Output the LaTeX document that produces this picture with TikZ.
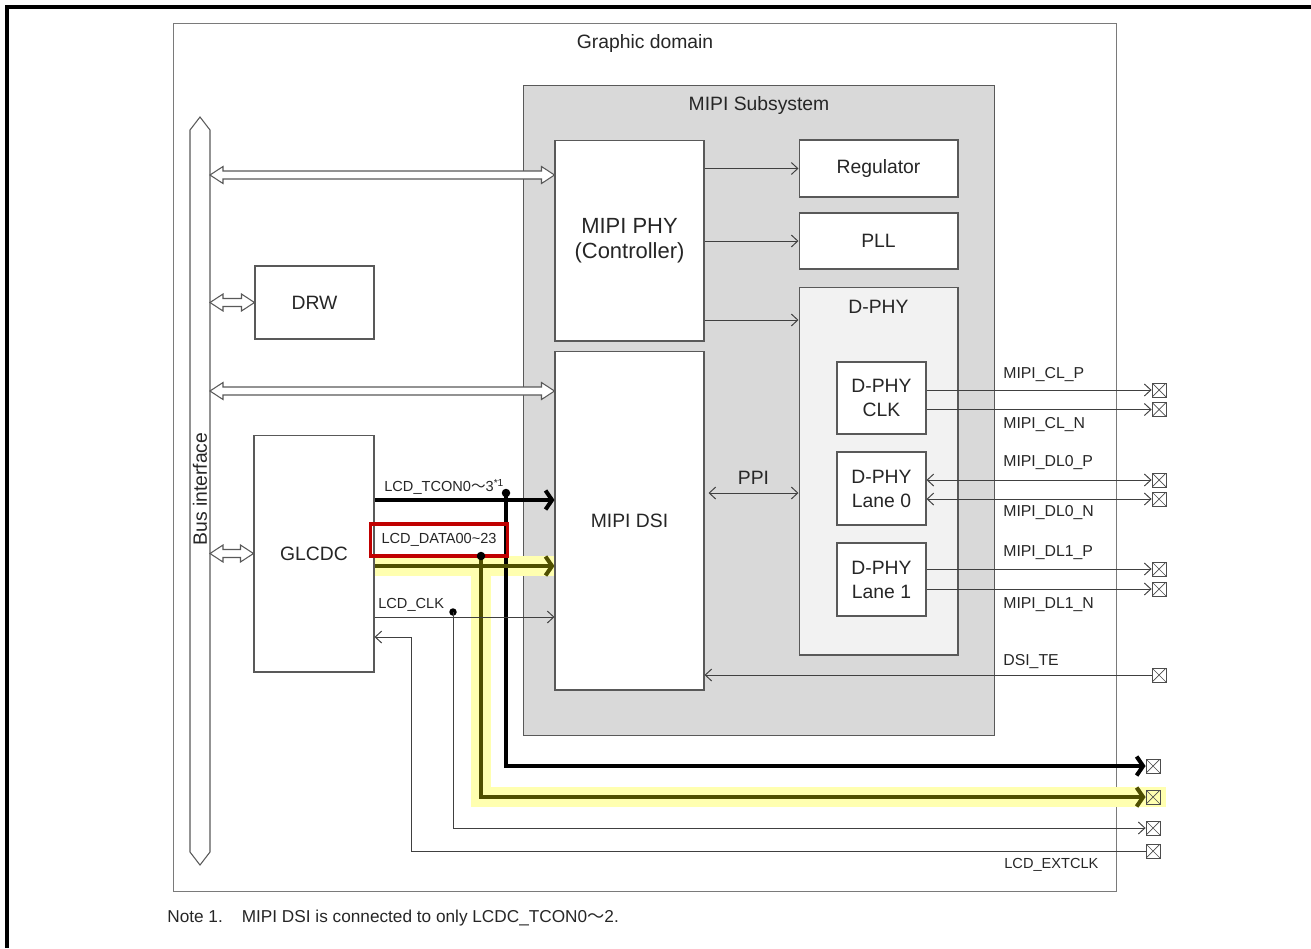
\documentclass[tikz,border=0pt]{standalone}
\usepackage{fontspec}
\setmainfont{Liberation Sans}
\newfontfamily\cjk{Noto Sans CJK JP}
\usetikzlibrary{arrows.meta}

\definecolor{subgray}{HTML}{D9D9D9}
\definecolor{phygray}{HTML}{F2F2F2}
\definecolor{edge}{HTML}{595959}
\definecolor{datacol}{HTML}{4F4F00}
\definecolor{hilite}{HTML}{FFFFB0}
\definecolor{redbox}{HTML}{C00000}

% hollow two-headed bus arrow between two named coordinates (left to right)
\newcommand\busarrow[2]{%
	\draw[draw=edge, fill=white, line width=0.6pt, line join=miter]
		(#1) -- ([xshift=0.26cm, yshift=0.17cm]#1) -- ([xshift=0.26cm, yshift=0.08cm]#1)
		-- ([xshift=-0.26cm, yshift=0.08cm]#2) -- ([xshift=-0.26cm, yshift=0.17cm]#2) -- (#2)
		-- ([xshift=-0.26cm, yshift=-0.17cm]#2) -- ([xshift=-0.26cm, yshift=-0.08cm]#2)
		-- ([xshift=0.26cm, yshift=-0.08cm]#1) -- ([xshift=0.26cm, yshift=-0.17cm]#1) -- cycle;}

\tikzset{
	blk/.style={draw=edge, fill=white, line width=0.6pt, align=center, font=\fontsize{11}{13.6}\selectfont},
	padbox/.style={draw=black!70, fill=white, minimum size=0.28cm, inner sep=0pt, line width=0.5pt,
		path picture={\draw[black!70, line width=0.4pt] (path picture bounding box.south west) -- (path picture bounding box.north east)
			(path picture bounding box.north west) -- (path picture bounding box.south east);}},
	sig/.style={anchor=west, inner sep=0pt, font=\fontsize{9}{10}\selectfont},
	lcd/.style={anchor=west, inner sep=0pt, font=\fontsize{8.3}{10}\selectfont},
	wire/.style={draw=black!75, line width=0.55pt},
	barb/.tip={Straight Barb[length=1.3mm, width=2.4mm]},
	thin/.style={-barb},
	fat/.style={line width=2.3pt, -{Straight Barb[length=1.3mm, width=3.8mm]}},
	dotnode/.style={circle, fill=black, inner sep=0pt, minimum size=0.17cm}
}

\begin{document}
\begin{tikzpicture}[x=0.02cm, y=-0.02cm, font=\fontsize{11}{13}\selectfont, text=black!85]
	\useasboundingbox (0,0) rectangle (1311,948);
	\draw[line width=2pt] (7,948) -- (7,7) -- (1311,7);

	% domains
	\node[draw=edge!80, line width=0.6pt, minimum width=18.88cm, minimum height=17.38cm] (dom) at (645,457.5) {};
	\node (domtitle) at (645,43) {Graphic domain};
	\node[draw=edge, fill=subgray, line width=0.6pt, minimum width=9.44cm, minimum height=13.02cm] (sub) at (759,410.5) {};
	\node (subtitle) at (759,105) {MIPI Subsystem};

	% blocks
	\node[blk, font=\fontsize{12.5}{14.2}\selectfont, minimum width=2.98cm, minimum height=4.02cm] (phy) at (629.5,240.5) {MIPI PHY\\(Controller)};
	\node[blk, minimum width=2.98cm, minimum height=6.78cm] (dsi) at (629.5,520.5) {MIPI DSI};
	\node[blk, minimum width=3.18cm, minimum height=1.14cm] (reg) at (878.5,168.5) {Regulator};
	\node[blk, minimum width=3.18cm, minimum height=1.12cm] (pll) at (878.5,241) {PLL};
	\node[blk, fill=phygray, minimum width=3.18cm, minimum height=7.36cm] (dphy) at (878.5,471) {};
	\node (dphytitle) at (878.5,307) {D-PHY};
	\node[blk, minimum width=1.78cm, minimum height=1.44cm] (clk) at (881.5,398) {D-PHY\\CLK};
	\node[blk, minimum width=1.78cm, minimum height=1.46cm] (lane0) at (881.5,488.5) {D-PHY\\Lane 0};
	\node[blk, minimum width=1.78cm, minimum height=1.46cm] (lane1) at (881.5,579.5) {D-PHY\\Lane 1};
	\node[blk, minimum width=2.38cm, minimum height=1.46cm] (drw) at (314.5,302.5) {DRW};
	\node[blk, minimum width=2.4cm, minimum height=4.74cm] (glcdc) at (314,553.5) {GLCDC};

	% bus interface
	\node[inner sep=0pt, outer sep=0pt, minimum width=0.4cm, minimum height=14.96cm] (bus) at (200,491) {};
	\draw[draw=edge, fill=white, line width=0.6pt] (190,130) -- (200,117) -- (210,130) -- (210,852) -- (200,865) -- (190,852) -- cycle;
	\node[rotate=90] (buslabel) at (200,489) {Bus interface};

	\coordinate (rowphy) at (0,175);
	\coordinate (rowdsi) at (0,391);
	\coordinate (bphy) at (bus.east |- rowphy);
	\coordinate (ephy) at (phy.west |- rowphy);
	\coordinate (bdrw) at (bus.east |- drw.west);
	\coordinate (edrw) at (drw.west);
	\coordinate (bdsi) at (bus.east |- rowdsi);
	\coordinate (edsi) at (dsi.west |- rowdsi);
	\coordinate (bglc) at (bus.east |- glcdc.west);
	\coordinate (eglc) at (glcdc.west);
	\busarrow{bphy}{ephy}
	\busarrow{bdrw}{edrw}
	\busarrow{bdsi}{edsi}
	\busarrow{bglc}{eglc}

	% inside the subsystem
	\coordinate (rowdphy) at (0,320);
	\coordinate (rowppi) at (0,493);
	\draw[wire, thin] (phy.east |- reg.west) -- (reg.west);
	\draw[wire, thin] (phy.east |- pll.west) -- (pll.west);
	\draw[wire, thin] (phy.east |- rowdphy) -- (dphy.west |- rowdphy);
	\draw[wire, barb-barb] ([xshift=0.08cm]dsi.east |- rowppi) -- node[above=1pt] (ppi) {PPI} (dphy.west |- rowppi);

	% pins
	\foreach \nm/\yy in {pclp/390, pcln/409.5, pdzp/480, pdzn/499, pdop/569, pdon/589, pte/675}
		\node[padbox] (\nm) at (1159,\yy) {};
	\foreach \nm/\yy in {ptcon/766, pclk/828, pext/851}
		\node[padbox] (\nm) at (1153,\yy) {};

	\draw[wire, thin] (clk.east |- pclp) -- (pclp);
	\draw[wire, thin] (clk.east |- pcln) -- (pcln);
	\draw[wire, barb-barb] (lane0.east |- pdzp) -- (pdzp);
	\draw[wire, barb-barb] (lane0.east |- pdzn) -- (pdzn);
	\draw[wire, thin] (lane1.east |- pdop) -- (pdop);
	\draw[wire, thin] (lane1.east |- pdon) -- (pdon);
	\draw[wire, thin] (pte) -- (dsi.east |- pte);

	\node[sig] (lclp) at (1003,375) {MIPI\_CL\_P};
	\node[sig] (lcln) at (1003,425) {MIPI\_CL\_N};
	\node[sig] (ldzp) at (1003,463) {MIPI\_DL0\_P};
	\node[sig] (ldzn) at (1003,513) {MIPI\_DL0\_N};
	\node[sig] (ldop) at (1003,553) {MIPI\_DL1\_P};
	\node[sig] (ldon) at (1003,605) {MIPI\_DL1\_N};
	\node[sig] (lte) at (1003,662) {DSI\_TE};
	\node[lcd] (lext) at (1004,865) {LCD\_EXTCLK};

	% GLCDC signals
	\coordinate (rowtcon) at (0,500);
	\coordinate (rowdata) at (0,566);
	\coordinate (rowclk) at (0,617);
	\coordinate (rowext) at (0,637);
	\coordinate (bend) at (411,0);
	\coordinate (ddata) at (481,556);

	% highlight
	\draw[hilite, line width=11.3pt] (glcdc.east |- rowdata) -- (dsi.west |- rowdata);
	\draw[hilite, line width=11.3pt] (ddata |- rowdata) -- (ddata |- 0,797) -- (1166,797);
	\node[padbox, fill=hilite] (pdata) at (1153,797) {};

	\node[lcd] (ltcon) at (384,487) {LCD\_TCON0{\cjk ～}3\textsuperscript{*1}};
	\node[lcd] (lclk) at (378,605) {LCD\_CLK};

	\draw[fat, black] (glcdc.east |- rowtcon) -- (dsi.west |- rowtcon);
	\node[dotnode] (dtcon) at (506,493) {};
	\draw[fat, black] (dtcon.center) -- (dtcon |- ptcon) -- (ptcon.west);

	\draw[fat, datacol] (glcdc.east |- rowdata) -- (dsi.west |- rowdata);
	\draw[fat, datacol] (ddata) -- (ddata |- pdata) -- (pdata.west);

	\draw[wire, thin] (glcdc.east |- rowclk) -- (dsi.west |- rowclk);
	\node[dotnode, minimum size=0.15cm] (dclk) at (453,612) {};
	\draw[wire, thin] (dclk.center) -- (dclk |- pclk) -- (pclk.west);

	\draw[wire, thin] (pext.west) -- (bend |- pext) -- (bend |- rowext) -- (glcdc.east |- rowext);

	\node[lcd, draw=redbox, line width=1.8pt, minimum width=2.74cm, minimum height=0.64cm, inner xsep=4pt] (ldata) at (369,540) {LCD\_DATA00\textasciitilde 23};
	\node[dotnode] (dd) at (ddata) {};

	% footnote
	\node[anchor=west, inner sep=0pt, font=\fontsize{9.8}{11}\selectfont] (note) at (167,918)
		{Note 1.\hspace{1.1em}MIPI DSI is connected to only LCDC\_TCON0{\cjk ～}2.};
\end{tikzpicture}
\end{document}
